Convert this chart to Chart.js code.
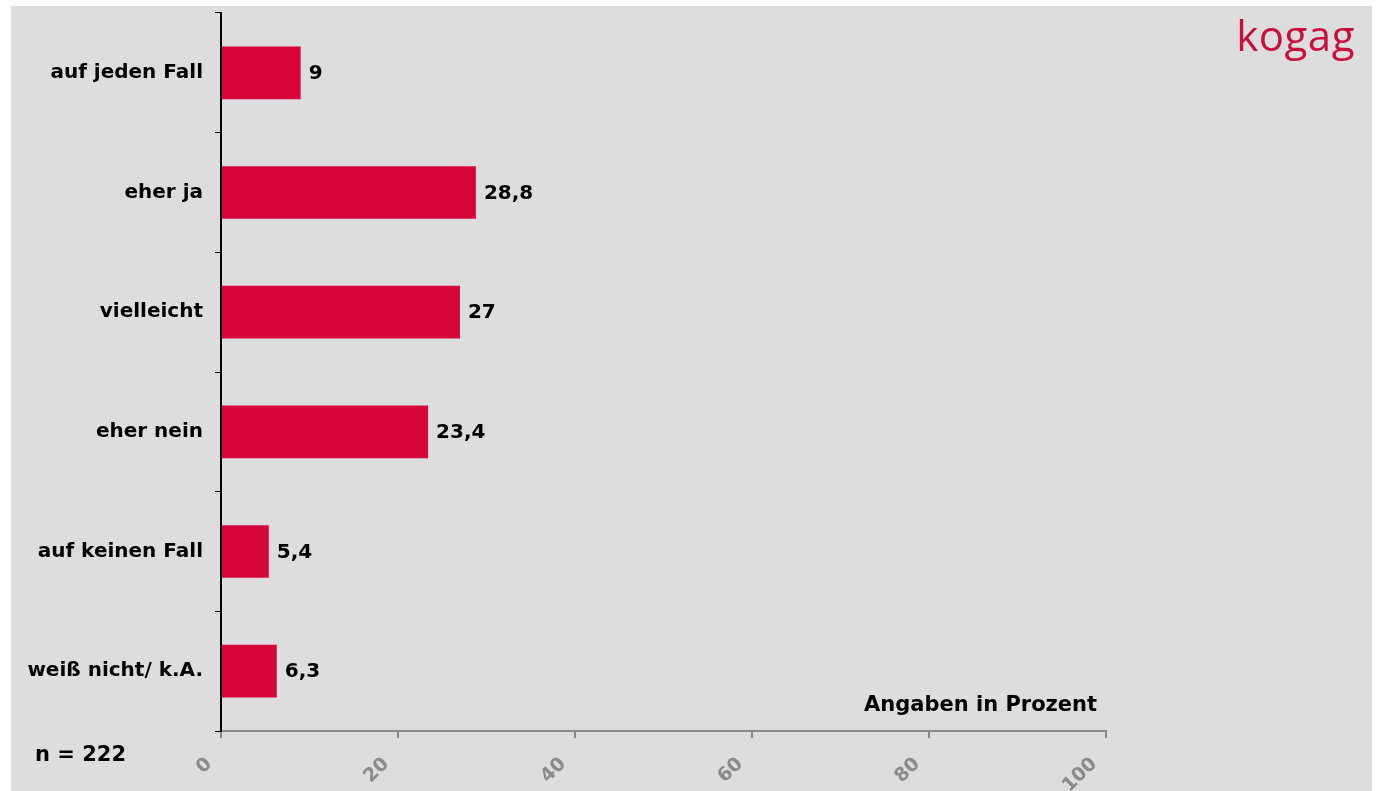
<!DOCTYPE html>
<html lang="de">
<head>
<meta charset="utf-8">
<title>Umfrage</title>
<script src="https://cdn.jsdelivr.net/npm/chart.js@4"></script>
<style>
  html, body { margin: 0; padding: 0; background: #fff; }
  #panel {
    position: absolute; left: 11px; top: 6px;
    width: 1361px; height: 785px;
    background: #dddddd;
  }
  #myChart { position: absolute; left: 0; top: 0; }
  .note {
    position: absolute; font-family: "DejaVu Sans", Verdana, sans-serif;
    font-weight: bold; font-size: 21px; color: #000; white-space: nowrap;
  }
  #logo {
    position: absolute; right: 17px; top: 0px;
    font-family: "Open Sans", "Noto Sans", sans-serif;
    font-size: 42px; color: #c80f3e; letter-spacing: 0.5px;
  }
</style>
</head>
<body>
<div id="panel">
  <canvas id="myChart" width="1361" height="785"></canvas>
  <div id="logo">kogag</div>
  <div class="note" style="left: 853px; top: 686px;">Angaben in Prozent</div>
  <div class="note" style="left: 24px; top: 736px;">n = 222</div>
</div>
<script>
const categories = ['auf jeden Fall', 'eher ja', 'vielleicht', 'eher nein', 'auf keinen Fall', 'weiß nicht/ k.A.'];
const values = [9, 28.8, 27, 23.4, 5.4, 6.3];
const xTicks = [0, 20, 40, 60, 80, 100];

const barColor = '#d70639';
const labelFont = { family: '"DejaVu Sans", Verdana, sans-serif', size: 20, weight: 'bold' };

// writes the value next to the end of each bar, with a decimal comma
const valueLabels = {
  id: 'valueLabels',
  afterDatasetsDraw(chart) {
    const ctx = chart.ctx;
    const meta = chart.getDatasetMeta(0);
    ctx.save();
    ctx.font = 'bold 20px "DejaVu Sans", Verdana, sans-serif';
    ctx.fillStyle = '#000';
    ctx.textAlign = 'left';
    ctx.textBaseline = 'middle';
    meta.data.forEach(function(bar, i) {
      const txt = String(values[i]).replace('.', ',');
      ctx.fillText(txt, bar.x + 8, bar.y + 1);
    });
    ctx.restore();
  }
};

function initChart() {
  const ctx = document.getElementById('myChart').getContext('2d');
  return new Chart(ctx, {
    type: 'bar',
    data: {
      labels: categories,
      datasets: [{
        data: values,
        backgroundColor: barColor,
        borderWidth: 0,
        categoryPercentage: 1,
        barPercentage: 0.44
      }]
    },
    plugins: [valueLabels],
    options: {
      indexAxis: 'y',
      responsive: false,
      animation: false,
      layout: { padding: { top: 7, right: 266, left: 0, bottom: 0 } },
      plugins: {
        legend: { display: false },
        tooltip: { enabled: false }
      },
      scales: {
        x: {
          min: 0,
          max: 100,
          afterBuildTicks(scale) {
            scale.ticks = xTicks.map(v => ({ value: v }));
          },
          afterFit(scale) {
            scale.height = 60;
            scale.paddingLeft = 0;
            scale.paddingRight = 0;
          },
          border: { display: true, color: '#8a8a8a', width: 2 },
          grid: { drawOnChartArea: false, drawTicks: true, tickLength: 7, color: '#8a8a8a', lineWidth: 2 },
          ticks: {
            minRotation: 45,
            maxRotation: 45,
            padding: 15,
            labelOffset: -12,
            color: '#8a8a8a',
            font: { family: '"DejaVu Sans", Verdana, sans-serif', size: 19, weight: 'bold' }
          }
        },
        y: {
          afterFit(scale) {
            scale.width = 210;
            scale.paddingTop = 0;
            scale.paddingBottom = 0;
          },
          border: { display: true, color: '#000', width: 2 },
          grid: { offset: true, drawOnChartArea: false, drawTicks: true, tickLength: 6, color: '#000', lineWidth: 1 },
          ticks: {
            padding: 12,
            color: '#000',
            font: labelFont
          }
        }
      }
    }
  });
}

document.addEventListener('DOMContentLoaded', function() {
  initChart();
});
</script>
</body>
</html>
